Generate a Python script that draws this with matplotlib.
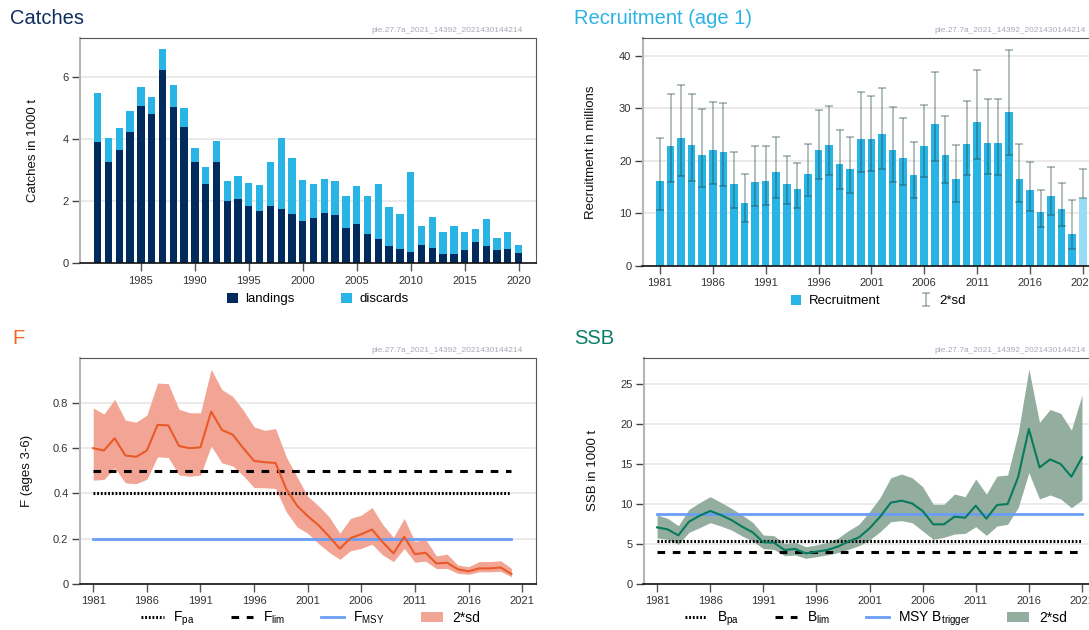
import numpy as np
import matplotlib
matplotlib.use('Agg')
import matplotlib.pyplot as plt

plt.rcParams['font.family'] = ['Liberation Sans', 'DejaVu Sans']
plt.rcParams['mathtext.fontset'] = 'custom'
plt.rcParams['mathtext.rm'] = 'Liberation Sans'
plt.rcParams['mathtext.it'] = 'Liberation Sans'

# ---- data ----
years = np.arange(1981, 2021)
landings = [3.89, 3.25, 3.63, 4.23, 5.07, 4.80, 6.22, 5.01, 4.37, 3.27,
            2.55, 3.27, 1.99, 2.06, 1.85, 1.69, 1.85, 1.75, 1.60, 1.36,
            1.47, 1.61, 1.54, 1.14, 1.26, 0.93, 0.79, 0.56, 0.46, 0.36,
            0.59, 0.49, 0.29, 0.29, 0.43, 0.68, 0.57, 0.43, 0.46, 0.32]
catch_total = [5.47, 4.03, 4.34, 4.90, 5.65, 5.36, 6.89, 5.74, 4.98, 3.71,
               3.11, 3.93, 2.65, 2.79, 2.59, 2.51, 3.24, 4.03, 3.39, 2.68,
               2.56, 2.70, 2.65, 2.16, 2.48, 2.16, 2.54, 1.82, 1.58, 2.93,
               1.19, 1.49, 1.02, 1.21, 1.00, 1.10, 1.43, 0.81, 0.99, 0.59]
discards = [t - l for t, l in zip(catch_total, landings)]

rec_years = np.arange(1981, 2022)
recruitment = [16.1, 22.8, 24.3, 23.0, 21.1, 22.0, 21.7, 15.5, 11.9, 16.0,
               16.1, 17.8, 15.6, 14.6, 17.5, 22.1, 22.9, 19.4, 18.4, 24.1,
               24.1, 25.0, 22.0, 20.6, 17.3, 22.7, 27.0, 21.1, 16.6, 23.2,
               27.4, 23.4, 23.3, 29.3, 16.6, 14.4, 10.3, 13.3, 10.8, 6.1, 12.9]
rec_low = [10.7, 15.9, 17.1, 16.2, 14.9, 15.6, 15.2, 10.9, 8.4, 11.4,
           11.6, 12.9, 11.7, 11.0, 13.2, 16.6, 17.3, 14.6, 13.8, 17.8,
           18.0, 18.5, 16.0, 15.3, 12.9, 16.9, 19.9, 15.7, 12.2, 17.2,
           20.3, 17.5, 17.3, 21.0, 12.1, 10.5, 7.4, 9.6, 7.5, 3.1, 12.9]
rec_high = [24.4, 32.6, 34.5, 32.6, 29.8, 31.1, 30.9, 21.7, 17.5, 22.7,
            22.7, 24.6, 20.8, 19.6, 23.2, 29.6, 30.5, 25.9, 24.6, 33.0,
            32.4, 33.8, 30.2, 28.2, 23.5, 30.6, 36.8, 28.6, 22.9, 31.4,
            37.3, 31.7, 31.7, 41.1, 23.1, 19.7, 14.4, 18.7, 15.8, 12.6, 18.5]

f_years = np.arange(1981, 2021)
f_val = [0.600, 0.590, 0.644, 0.568, 0.562, 0.590, 0.703, 0.701, 0.610, 0.600,
         0.604, 0.762, 0.681, 0.660, 0.600, 0.544, 0.538, 0.535, 0.420, 0.347,
         0.300, 0.260, 0.210, 0.156, 0.203, 0.220, 0.241, 0.185, 0.135, 0.209,
         0.132, 0.138, 0.091, 0.094, 0.065, 0.056, 0.069, 0.069, 0.073, 0.044]
f_high = [0.778, 0.751, 0.816, 0.724, 0.715, 0.746, 0.888, 0.885, 0.772, 0.757,
          0.756, 0.949, 0.859, 0.829, 0.768, 0.694, 0.679, 0.687, 0.562, 0.474,
          0.388, 0.346, 0.297, 0.224, 0.290, 0.304, 0.338, 0.263, 0.206, 0.290,
          0.188, 0.197, 0.124, 0.132, 0.084, 0.076, 0.099, 0.099, 0.103, 0.069]
f_low = [0.459, 0.462, 0.513, 0.447, 0.443, 0.463, 0.562, 0.559, 0.482, 0.476,
         0.481, 0.610, 0.535, 0.522, 0.478, 0.426, 0.425, 0.422, 0.319, 0.253,
         0.224, 0.179, 0.140, 0.109, 0.147, 0.157, 0.176, 0.128, 0.099, 0.157,
         0.096, 0.101, 0.068, 0.069, 0.047, 0.043, 0.054, 0.054, 0.056, 0.032]
f_pa, f_lim, f_msy = 0.40, 0.50, 0.198

ssb_years = np.arange(1981, 2022)
ssb = [7.08, 6.83, 6.08, 7.79, 8.54, 9.13, 8.63, 8.00, 7.17, 6.46,
       5.21, 5.17, 4.25, 4.38, 3.83, 4.04, 4.25, 4.67, 5.29, 5.83,
       6.96, 8.42, 10.17, 10.42, 10.08, 9.13, 7.46, 7.46, 8.42, 8.29,
       9.79, 8.17, 9.88, 10.00, 13.42, 19.38, 14.58, 15.58, 15.00, 13.42, 15.83]
ssb_high = [8.63, 8.21, 7.29, 9.33, 10.17, 10.92, 10.21, 9.46, 8.63, 7.71,
            6.13, 6.04, 5.08, 5.21, 4.67, 4.88, 5.21, 5.71, 6.67, 7.46,
            9.04, 10.83, 13.29, 13.75, 13.29, 12.17, 9.96, 9.96, 11.25, 10.92,
            13.13, 11.25, 13.50, 13.63, 18.92, 26.88, 20.21, 21.83, 21.33, 19.25, 23.63]
ssb_low = [5.75, 5.58, 4.96, 6.46, 7.04, 7.67, 7.25, 6.75, 6.00, 5.38,
           4.42, 4.33, 3.54, 3.63, 3.21, 3.42, 3.63, 3.92, 4.33, 4.79,
           5.50, 6.54, 7.79, 7.92, 7.67, 6.63, 5.58, 5.83, 6.25, 6.33,
           7.17, 6.08, 7.25, 7.46, 9.58, 13.92, 10.63, 11.13, 10.63, 9.54, 10.50]
b_pa, b_lim, msy_btrigger = 5.4, 4.0, 8.8

stamp = 'ple.27.7a_2021_14392_2021430144214'

W, H = 1089, 630
fig = plt.figure(figsize=(W / 100, H / 100), dpi=100)


def rect(l, r, t, b):
    return [l / W, 1 - b / H, (r - l) / W, (b - t) / H]


def style(ax, xticks, yticks, ylabels, ylab, labx):
    ax.set_xticks(xticks)
    ax.set_yticks(yticks)
    ax.set_yticklabels(ylabels)
    ax.tick_params(axis='both', labelsize=8, colors='#333333', length=6, width=1)
    ax.tick_params(axis='x', color='#555555', pad=3)
    ax.tick_params(axis='y', color='#444444', pad=2)
    ax.grid(axis='y', color='#e6e6e6', lw=1.2)
    ax.set_axisbelow(True)
    ax.spines['left'].set_color('#b5b5b5')
    ax.spines['left'].set_linewidth(1.5)
    ax.spines['top'].set_color('#555555')
    ax.spines['right'].set_color('#555555')
    ax.spines['bottom'].set_color('#111111')
    ax.spines['bottom'].set_linewidth(1.2)
    ax.set_ylabel(ylab, fontsize=9.5, color='#111111')
    ax.yaxis.set_label_coords(labx, 0.5)


# ---- Catches ----
ax1 = fig.add_axes(rect(79.5, 536.3, 37.7, 263.3))
ax1.bar(years, landings, width=0.68, color='#002b5c', label='landings')
ax1.bar(years, discards, width=0.68, bottom=landings, color='#29b4e6', label='discards')
ax1.set_xlim(1979.31, 2021.64)
ax1.set_ylim(0, 7.25)
style(ax1, np.arange(1985, 2021, 5), [0, 2, 4, 6], ['0', '2', '4', '6'],
      'Catches in 1000 t', -0.088)
fig.text(10 / W, 1 - 19 / H, 'Catches', fontsize=14.5, color='#0f2d5e', va='center')
fig.text(523 / W, 1 - 31 / H, stamp, fontsize=6, color='#a5aab5', ha='right', va='center')
h, l = ax1.get_legend_handles_labels()
fig.legend(h, l, loc='center', bbox_to_anchor=(318 / W, 1 - 299 / H), ncol=2,
           frameon=False, fontsize=9.5, handlelength=0.8, handleheight=0.8,
           columnspacing=3.5, handletextpad=0.6)

# ---- Recruitment ----
ax2 = fig.add_axes(rect(642.5, 1096, 38.3, 265.7))
rec_colors = ['#29b4e6'] * (len(rec_years) - 1) + ['#98dcf5']
ax2.bar(rec_years, recruitment, width=0.72, color=rec_colors, label='Recruitment')
yerr = [np.array(recruitment) - np.array(rec_low), np.array(rec_high) - np.array(recruitment)]
eb = ax2.errorbar(rec_years, recruitment, yerr=yerr, fmt='none', ecolor='#1f3f3f',
                  alpha=0.4, capsize=3, elinewidth=1.2, capthick=1.2, label='2*sd')
ax2.set_xlim(1979.35, 2022.25)
ax2.set_ylim(0, 43.3)
style(ax2, np.arange(1981, 2022, 5), [0, 10, 20, 30, 40], ['0', '10', '20', '30', '40'],
      'Recruitment in millions', -0.1)
fig.text(574.5 / W, 1 - 19 / H, 'Recruitment (age 1)', fontsize=14.5, color='#2cb3e6', va='center')
fig.text(1086 / W, 1 - 31 / H, stamp, fontsize=6, color='#a5aab5', ha='right', va='center')
h, l = ax2.get_legend_handles_labels()
fig.legend(h, l, loc='center', bbox_to_anchor=(878 / W, 1 - 301 / H), ncol=2,
           frameon=False, fontsize=9.5, handlelength=0.8, handleheight=0.8,
           columnspacing=3.0, handletextpad=0.6)

# ---- F ----
ax3 = fig.add_axes(rect(79.6, 536.3, 357.7, 584))
ax3.plot(f_years, [f_pa] * len(f_years), color='black', lw=2.2, ls=(0, (0.6, 0.6)),
         label=r'F$_{\rm pa}$')
ax3.plot(f_years, [f_lim] * len(f_years), color='black', lw=2.2, ls=(0, (2.5, 2.5)),
         label=r'F$_{\rm lim}$')
ax3.plot(f_years, [f_msy] * len(f_years), color='#6a9df5', lw=2, label=r'F$_{\rm MSY}$')
ax3.fill_between(f_years, f_low, f_high, color='#f2a594', lw=0, label='2*sd')
ax3.plot(f_years, f_val, color='#ea5a28', lw=1.5)
ax3.set_xlim(1979.73, 2022.32)
ax3.set_ylim(0, 1.0)
style(ax3, np.arange(1981, 2022, 5), [0, 0.2, 0.4, 0.6, 0.8], ['0', '0.2', '0.4', '0.6', '0.8'],
      'F (ages 3-6)', -0.102)
fig.text(12 / W, 1 - 338 / H, 'F', fontsize=14.5, color='#f26522', va='center')
fig.text(523 / W, 1 - 351 / H, stamp, fontsize=6, color='#a5aab5', ha='right', va='center')
h, l = ax3.get_legend_handles_labels()
fig.legend(h, l, loc='center', bbox_to_anchor=(311 / W, 1 - 619 / H), ncol=4,
           frameon=False, fontsize=10, handlelength=1.6, columnspacing=2.6,
           handletextpad=0.7)

# ---- SSB ----
ax4 = fig.add_axes(rect(643.5, 1096, 357.7, 584))
ax4.plot(ssb_years, [b_pa] * len(ssb_years), color='black', lw=2.2, ls=(0, (0.6, 0.6)),
         label=r'B$_{\rm pa}$')
ax4.plot(ssb_years, [b_lim] * len(ssb_years), color='black', lw=2.2, ls=(0, (2.5, 2.5)),
         label=r'B$_{\rm lim}$')
ax4.plot(ssb_years, [msy_btrigger] * len(ssb_years), color='#6a9df5', lw=2,
         label=r'MSY B$_{\rm trigger}$')
ax4.fill_between(ssb_years, ssb_low, ssb_high, color='#93ae9f', lw=0, label='2*sd')
ax4.plot(ssb_years, ssb, color='#087a5e', lw=1.5)
ax4.set_xlim(1979.72, 2022.32)
ax4.set_ylim(0, 28.3)
style(ax4, np.arange(1981, 2022, 5), [0, 5, 10, 15, 20, 25], ['0', '5', '10', '15', '20', '25'],
      'SSB in 1000 t', -0.099)
fig.text(574.5 / W, 1 - 338 / H, 'SSB', fontsize=14.5, color='#0b7d66', va='center')
fig.text(1086 / W, 1 - 351 / H, stamp, fontsize=6, color='#a5aab5', ha='right', va='center')
h, l = ax4.get_legend_handles_labels()
fig.legend(h, l, loc='center', bbox_to_anchor=(876 / W, 1 - 619 / H), ncol=4,
           frameon=False, fontsize=10, handlelength=1.6, columnspacing=2.6,
           handletextpad=0.7)

fig.savefig('out.png', dpi=100)
